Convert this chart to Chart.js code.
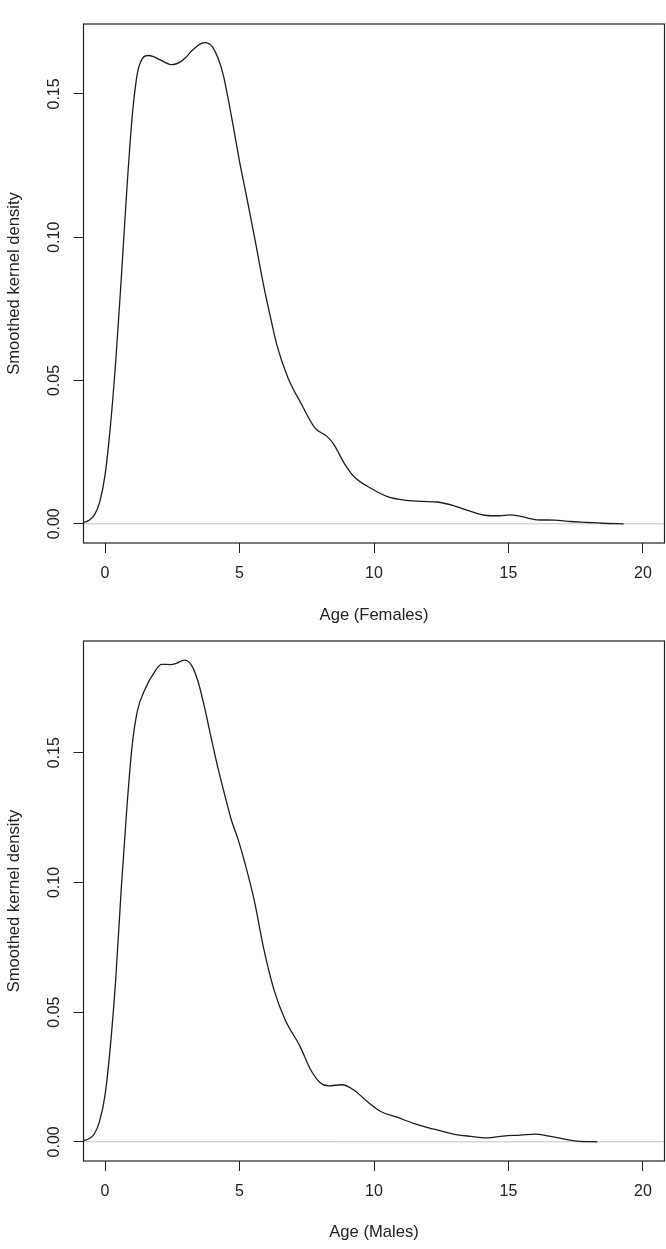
<!DOCTYPE html>
<html><head><meta charset="utf-8">
<script src="https://cdn.jsdelivr.net/npm/chart.js@4.4.1/dist/chart.umd.min.js"></script>
<style>
html,body{margin:0;padding:0;background:#fff;}
body{width:666px;height:1249px;position:relative;overflow:hidden;}
.panel{position:absolute;left:0;width:666px;}
canvas{display:block;}
</style></head><body>
<div class="panel" style="top:0;height:625px"><canvas id="c1" width="666" height="625"></canvas></div>
<div class="panel" style="top:625px;height:624px"><canvas id="c2" width="666" height="624"></canvas></div>
<script>
// ---- data ----
const femaleAge = [-0.8,-0.6,-0.4,-0.2,0.0,0.2,0.4,0.6,0.8,1.0,1.2,1.4,1.6,1.8,2.1,2.5,2.8,3.0,3.2,3.4,3.6,3.75,3.9,4.0,4.2,4.4,4.6,4.8,5.0,5.3,5.6,5.9,6.2,6.4,6.8,7.3,7.8,8.25,8.5,8.9,9.25,9.9,10.5,11.2,11.8,12.35,13.0,13.6,14.2,14.65,15.05,15.45,16.05,16.7,17.3,17.9,18.5,19.28];
const femaleDensity = [0.0005,0.0012,0.003,0.0075,0.017,0.034,0.057,0.085,0.115,0.141,0.157,0.1625,0.1634,0.1630,0.1616,0.1602,0.1612,0.1627,0.1648,0.1665,0.1677,0.1679,0.1673,0.1663,0.1625,0.1565,0.1472,0.1370,0.1265,0.1124,0.0979,0.0830,0.0700,0.0620,0.0510,0.0418,0.0335,0.0305,0.0278,0.0210,0.0165,0.0123,0.0095,0.0082,0.0078,0.0076,0.0062,0.0043,0.0029,0.0028,0.0031,0.0026,0.0014,0.0013,0.0008,0.0005,0.0002,0.0];
const maleAge = [-0.8,-0.6,-0.4,-0.2,0.0,0.2,0.4,0.6,0.8,1.0,1.2,1.5,1.85,2.1,2.45,2.65,2.94,3.2,3.45,3.7,3.95,4.2,4.45,4.7,4.95,5.2,5.55,5.9,6.3,6.7,7.25,7.65,8.0,8.3,8.8,9.25,9.75,10.25,10.85,11.5,12.1,12.35,12.95,13.6,14.2,14.8,15.45,16.0,16.45,16.95,17.55,18.3];
const maleDensity = [0.0005,0.0012,0.003,0.008,0.018,0.037,0.063,0.097,0.127,0.152,0.166,0.1748,0.1813,0.1841,0.1840,0.1845,0.1857,0.1840,0.1778,0.1675,0.1556,0.1441,0.1338,0.1240,0.1165,0.1075,0.0930,0.0745,0.0580,0.0470,0.0368,0.0277,0.0228,0.0216,0.0220,0.0200,0.0155,0.0117,0.0095,0.0070,0.0052,0.0046,0.0030,0.0021,0.0015,0.0022,0.0026,0.0030,0.0023,0.0013,0.0003,0.0];
const xTicks = [0, 5, 10, 15, 20];
const yTicks = [0, 0.05, 0.10, 0.15];
const xRange = [-0.8, 20.8];
const femaleYRange = [-0.0067, 0.1744];
const maleYRange = [-0.0074, 0.1931];
const zeroLineY = [0, 0];
const xTitles = ['Age (Females)', 'Age (Males)'];
const yTitle = 'Smoothed kernel density';

const FONT = "'Liberation Sans', Arial, sans-serif";
const INK = '#222';

const boxPlugin = {
  id: 'box',
  afterDraw(chart) {
    const {ctx, chartArea: a} = chart;
    ctx.save();
    ctx.strokeStyle = INK;
    ctx.lineWidth = 1.2;
    ctx.strokeRect(a.left, a.top, a.right - a.left, a.bottom - a.top);
    ctx.restore();
  }
};

function makeChart(id, ages, dens, yRange, xTitle, o) {
  const pts = ages.map((a, i) => ({x: a, y: dens[i]}));
  const zero = xRange.map((x, i) => ({x: x, y: zeroLineY[i]}));
  const tickGrid = {drawOnChartArea: false, drawTicks: true, tickLength: 10, tickColor: INK, tickWidth: 1};
  return new Chart(document.getElementById(id), {
    type: 'line',
    data: {datasets: [
      {data: pts, borderColor: '#1c1c1c', borderWidth: 1.3, pointRadius: 0, fill: false,
       cubicInterpolationMode: 'monotone'},
      {data: zero, borderColor: '#c4c4c4', borderWidth: 1, pointRadius: 0, fill: false, tension: 0}
    ]},
    options: {
      responsive: false, animation: false, devicePixelRatio: 1,
      layout: {padding: {top: o.padTop, right: 1.5, left: 0, bottom: 0}},
      plugins: {legend: {display: false}, tooltip: {enabled: false}},
      scales: {
        x: {
          type: 'linear', min: xRange[0], max: xRange[1],
          afterBuildTicks: s => { s.ticks = xTicks.map(v => ({value: v})); },
          afterFit: s => { s.height = o.xAxisH; },
          grid: tickGrid, border: {display: false},
          ticks: {autoSkip: false, minRotation: 0, maxRotation: 0, padding: 11, color: INK,
                  font: {family: FONT, size: 16}, callback: v => String(v)},
          title: {display: true, text: xTitle, color: INK, font: {family: FONT, size: 16.6},
                  padding: {top: 0, bottom: o.xTitlePad}}
        },
        y: {
          type: 'linear', min: yRange[0], max: yRange[1],
          afterBuildTicks: s => { s.ticks = yTicks.map(v => ({value: v})); },
          afterFit: s => { s.width = 83.5; },
          grid: tickGrid, border: {display: false},
          ticks: {autoSkip: false, minRotation: 90, maxRotation: 90, crossAlign: 'center', padding: 3,
                  color: INK, font: {family: FONT, size: 16}, callback: v => Number(v).toFixed(2)},
          title: {display: true, text: yTitle, color: INK, font: {family: FONT, size: 16.6},
                  padding: {top: 4, bottom: 0}}
        }
      }
    },
    plugins: [boxPlugin]
  });
}

makeChart('c1', femaleAge, femaleDensity, femaleYRange, xTitles[0], {padTop: 24, xAxisH: 82, xTitlePad: 0});
makeChart('c2', maleAge, maleDensity, maleYRange, xTitles[1], {padTop: 16, xAxisH: 88, xTitlePad: 6.3});
</script>
</body></html>
